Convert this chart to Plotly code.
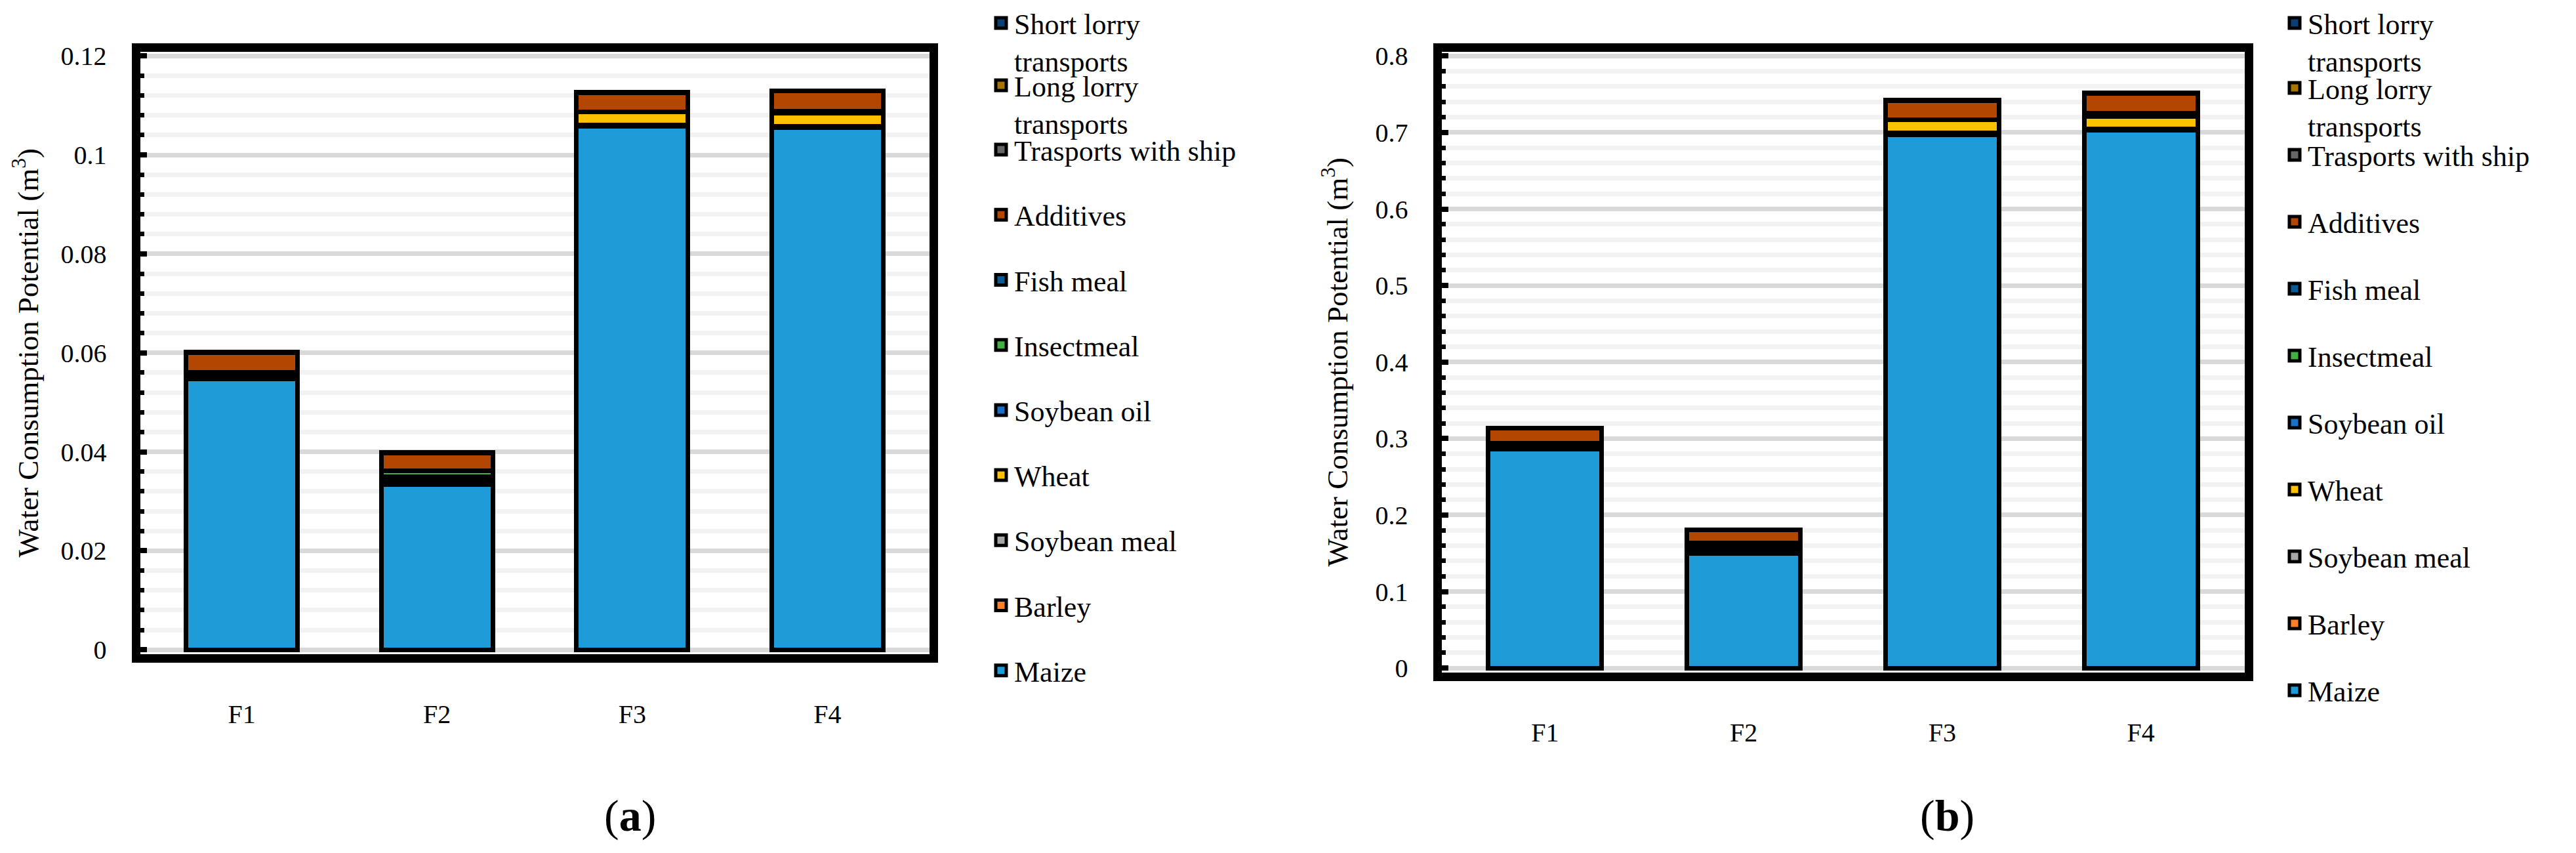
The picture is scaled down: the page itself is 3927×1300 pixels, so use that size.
import plotly.graph_objects as go

# ---------------- data ----------------
categories = ["F1", "F2", "F3", "F4"]

# stacking order (bottom -> top)
components = ["Maize", "Barley", "Soybean meal", "Wheat", "Soybean oil", "Insectmeal",
              "Fish meal", "Additives", "Trasports with ship",
              "Long lorry<br>transports", "Short lorry<br>transports"]

colors = {
    "Maize": "#1E9CD8",
    "Barley": "#FF7F27",
    "Soybean meal": "#A6A6A6",
    "Wheat": "#FFC000",
    "Soybean oil": "#1A6FC6",
    "Insectmeal": "#44B044",
    "Fish meal": "#0B5B96",
    "Additives": "#B34600",
    "Trasports with ship": "#666666",
    "Long lorry<br>transports": "#A87400",
    "Short lorry<br>transports": "#0B3F76",
}

# panel (a)
maize_a        = [0.0547, 0.0334, 0.1058, 0.1055]
barley_a       = [0.0003, 0.0004, 0.0001, 0.0001]
soybean_meal_a = [0.0005, 0.0006, 0.0002, 0.0002]
wheat_a        = [0.0000, 0.0003, 0.0026, 0.0026]
soybean_oil_a  = [0.0002, 0.0003, 0.0000, 0.0002]
insectmeal_a   = [0.0000, 0.0011, 0.0000, 0.0003]
fish_meal_a    = [0.0004, 0.0000, 0.0000, 0.0000]
additives_a    = [0.0039, 0.0037, 0.0039, 0.0040]
ship_a         = [0.00006, 0.00006, 0.00004, 0.00004]
long_lorry_a   = [0.00005, 0.00005, 0.00003, 0.00003]
short_lorry_a  = [0.00003, 0.00003, 0.00002, 0.00002]

# panel (b)
maize_b        = [0.2858, 0.1502, 0.6973, 0.7033]
barley_b       = [0.0015, 0.0018, 0.0010, 0.0007]
soybean_meal_b = [0.0035, 0.0030, 0.0015, 0.0010]
wheat_b        = [0.0000, 0.0015, 0.0166, 0.0158]
soybean_oil_b  = [0.0010, 0.0015, 0.0000, 0.0017]
insectmeal_b   = [0.0000, 0.0052, 0.0000, 0.0025]
fish_meal_b    = [0.0020, 0.0000, 0.0000, 0.0000]
additives_b    = [0.0196, 0.0172, 0.0254, 0.0260]
ship_b         = [0.0003, 0.0001, 0.0002, 0.0002]
long_lorry_b   = [0.0002, 0.0001, 0.0002, 0.0002]
short_lorry_b  = [0.0001, 0.0001, 0.0001, 0.0001]

values_a = [maize_a, barley_a, soybean_meal_a, wheat_a, soybean_oil_a, insectmeal_a,
            fish_meal_a, additives_a, ship_a, long_lorry_a, short_lorry_a]
values_b = [maize_b, barley_b, soybean_meal_b, wheat_b, soybean_oil_b, insectmeal_b,
            fish_meal_b, additives_b, ship_b, long_lorry_b, short_lorry_b]

y_title = "Water Consumption Potential (m<sup>3</sup>)"
panel_labels = ["(<b>a</b>)", "(<b>b</b>)"]

# ---------------- layout geometry (pixels) ----------------
W, H = 3927, 1300
FONT = "Liberation Serif"
LW = 13  # frame width


def px_x(p):
    return p / W


def px_y(p):
    return 1 - p / H


fig = go.Figure()

panels = [
    dict(vals=values_a, xa="x", ya="y", pre="a", frame=(207, 1423, 72.5, 1003), ymax=0.12,
         dtick=0.02, minor=0.004, leg=("legend", "legend2", "legend3"), legx=1506,
         legtops=(0.0, 95.0, 193.0), gap=39.0, lab=(960, 1243), tstand=25),
    dict(vals=values_b, xa="x2", ya="y2", pre="b", frame=(2191, 3428, 72.5, 1031), ymax=0.8,
         dtick=0.1, minor=0.02, leg=("legend4", "legend5", "legend6"), legx=3478,
         legtops=(0.0, 99.0, 201.0), gap=41.8, lab=(2968, 1243), tstand=33),
]

legend_order = list(reversed(components))

for i, p in enumerate(panels):
    # legend entries (square swatches)
    for name in legend_order:
        if name.startswith("Short"):
            lg = p["leg"][0]
        elif name.startswith("Long"):
            lg = p["leg"][1]
        else:
            lg = p["leg"][2]
        fig.add_trace(go.Scatter(
            x=[None], y=[None], mode="markers", name=name,
            marker=dict(symbol="square", size=16, color=colors[name],
                        line=dict(color="black", width=5)),
            legend=lg, legendgroup=p["pre"] + name, showlegend=True,
            xaxis=p["xa"], yaxis=p["ya"], hoverinfo="skip"))
    # stacked bars
    for name, vals in zip(components, p["vals"]):
        fig.add_trace(go.Bar(
            x=categories, y=vals, name=name.replace("<br>", " "),
            marker=dict(color=colors[name], line=dict(color="black", width=7)),
            legendgroup=p["pre"] + name, showlegend=False,
            xaxis=p["xa"], yaxis=p["ya"]))

layout = dict(
    width=W, height=H, margin=dict(l=0, r=0, t=0, b=0),
    paper_bgcolor="white", plot_bgcolor="white",
    barmode="stack", bargap=0.43, showlegend=True,
    font=dict(family=FONT, size=40, color="black"),
    annotations=[],
)

for i, p in enumerate(panels):
    x0, x1, y0, y1 = p["frame"]
    half = LW / 2
    cat_px = (x1 - x0) / 4
    xpad = half / cat_px
    ypad = half / ((y1 - y0) / p["ymax"])
    sfx = "" if i == 0 else "2"
    layout["xaxis" + sfx] = dict(
        domain=[px_x(x0 + half), px_x(x1 - half)],
        anchor="y" + sfx, type="category", categoryorder="array", categoryarray=categories,
        range=[-0.5 - xpad, 3.5 + xpad],
        showline=True, mirror=True, linewidth=LW, linecolor="black",
        ticks="", showgrid=False, zeroline=False,
        tickfont=dict(family=FONT, size=40, color="black"),
        ticklabelstandoff=44, automargin=False, fixedrange=True,
    )
    layout["yaxis" + sfx] = dict(
        domain=[px_y(y1 - half), px_y(y0 + half)],
        anchor="x" + sfx, range=[-ypad, p["ymax"] + ypad],
        tickmode="linear", tick0=0, dtick=p["dtick"],
        showline=True, mirror=True, linewidth=LW, linecolor="black",
        ticks="inside", ticklen=10, tickwidth=8, tickcolor="black",
        showgrid=True, gridcolor="#D9D9D9", gridwidth=7, zeroline=False,
        minor=dict(dtick=p["minor"], tick0=0, showgrid=True, gridcolor="#F2F2F2", gridwidth=7,
                   ticks="inside", ticklen=6, tickwidth=7, tickcolor="black"),
        tickfont=dict(family=FONT, size=40, color="black"),
        ticklabelstandoff=30,
        title=dict(text=y_title, font=dict(family=FONT, size=45, color="black"),
                   standoff=p["tstand"]),
        automargin=False, fixedrange=True,
    )
    for k, lg in enumerate(p["leg"]):
        layout[lg] = dict(
            x=px_x(p["legx"]), y=px_y(p["legtops"][k]), xanchor="left", yanchor="top",
            bgcolor="rgba(0,0,0,0)", borderwidth=0,
            font=dict(family=FONT, size=44, color="black"),
            tracegroupgap=p["gap"], traceorder="grouped", valign="top", itemwidth=30,
        )
    lx, ly = p["lab"]
    layout["annotations"].append(dict(
        text=panel_labels[i], x=px_x(lx), y=px_y(ly), xref="paper", yref="paper",
        xanchor="center", yanchor="middle", showarrow=False,
        font=dict(family=FONT, size=68, color="black")))

fig.update_layout(**layout)
fig.write_html("out.html",
               config={"displayModeBar": False},
               post_script="document.body.style.margin='0px';"
                           "document.body.style.overflow='hidden';")
